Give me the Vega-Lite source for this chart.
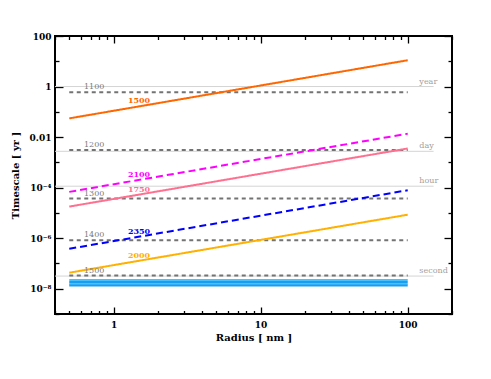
{
  "$schema": "https://vega.github.io/schema/vega-lite/v6.json",
  "width": 397,
  "height": 278,
  "autosize": {"type": "none"},
  "padding": {"left": 55, "top": 36, "right": 39, "bottom": 65},
  "background": "white",
  "config": {
    "view": {"stroke": "black", "strokeWidth": 2},
    "axis": {
      "domain": false,
      "grid": false,
      "tickColor": "black",
      "tickWidth": 1.3,
      "labelFont": "DejaVu Serif",
      "labelFontWeight": "bold",
      "labelFontSize": 9,
      "labelColor": "black",
      "titleFont": "DejaVu Serif",
      "titleFontWeight": "bold",
      "titleFontSize": 10,
      "titleColor": "black"
    }
  },
  "datasets": {
    "refs": [
      {"name": "year", "r": 0.4, "t": 1},
      {"name": "year", "r": 150, "t": 1},
      {"name": "day", "r": 0.4, "t": 0.002738},
      {"name": "day", "r": 150, "t": 0.002738},
      {"name": "hour", "r": 0.4, "t": 0.0001141},
      {"name": "hour", "r": 150, "t": 0.0001141},
      {"name": "second", "r": 0.4, "t": 3.169e-8},
      {"name": "second", "r": 150, "t": 3.169e-8}
    ],
    "refLabels": [
      {"name": "year", "r": 120, "t": 1},
      {"name": "day", "r": 120, "t": 0.002738},
      {"name": "hour", "r": 120, "t": 0.0001141},
      {"name": "second", "r": 120, "t": 3.169e-8}
    ],
    "curves": [
      {"s": "c1", "r": 0.5, "t": 2.19e-8}, {"s": "c1", "r": 100, "t": 2.19e-8},
      {"s": "c2", "r": 0.5, "t": 1.83e-8}, {"s": "c2", "r": 100, "t": 1.83e-8},
      {"s": "c3", "r": 0.5, "t": 1.54e-8}, {"s": "c3", "r": 100, "t": 1.54e-8},
      {"s": "c4", "r": 0.5, "t": 1.33e-8}, {"s": "c4", "r": 100, "t": 1.33e-8},
      {"s": "g1100", "r": 0.5, "t": 0.59}, {"s": "g1100", "r": 100, "t": 0.59},
      {"s": "g1200", "r": 0.5, "t": 0.0031}, {"s": "g1200", "r": 100, "t": 0.0031},
      {"s": "g1300", "r": 0.5, "t": 3.7e-5}, {"s": "g1300", "r": 100, "t": 3.7e-5},
      {"s": "g1400", "r": 0.5, "t": 8.2e-7}, {"s": "g1400", "r": 100, "t": 8.2e-7},
      {"s": "g1500", "r": 0.5, "t": 3.3e-8}, {"s": "g1500", "r": 100, "t": 3.3e-8},
      {"s": "1500", "r": 0.5, "t": 0.055}, {"s": "1500", "r": 100, "t": 11},
      {"s": "2100", "r": 0.5, "t": 6.8e-5}, {"s": "2100", "r": 100, "t": 0.0136},
      {"s": "1750", "r": 0.5, "t": 1.78e-5}, {"s": "1750", "r": 100, "t": 0.00355},
      {"s": "2350", "r": 0.5, "t": 3.8e-7}, {"s": "2350", "r": 100, "t": 7.9e-5},
      {"s": "2000", "r": 0.5, "t": 4.3e-8}, {"s": "2000", "r": 100, "t": 8.5e-6}
    ],
    "greyLabels": [
      {"label": "1100", "r": 0.63, "t": 0.59},
      {"label": "1200", "r": 0.63, "t": 0.0031},
      {"label": "1300", "r": 0.63, "t": 3.7e-5},
      {"label": "1400", "r": 0.63, "t": 8.2e-7},
      {"label": "1500", "r": 0.63, "t": 3.3e-8}
    ],
    "colorLabels": [
      {"label": "1500", "r": 1.49, "t": 0.164},
      {"label": "2100", "r": 1.49, "t": 0.000203},
      {"label": "1750", "r": 1.49, "t": 5.3e-5},
      {"label": "2350", "r": 1.49, "t": 1.13e-6},
      {"label": "2000", "r": 1.49, "t": 1.28e-7}
    ]
  },
  "resolve": {"axis": {"x": "independent", "y": "independent"}},
  "layer": [
    {
      "data": {"name": "refs"},
      "mark": {"type": "line", "color": "#d4d4d4", "strokeWidth": 1},
      "encoding": {
        "x": {"field": "r", "type": "quantitative",
          "scale": {"type": "log", "domain": [0.4, 200], "nice": false},
          "axis": {"orient": "bottom", "values": [1, 10, 100], "tickSize": -7, "labelPadding": 13, "title": "Radius [ nm ]", "titlePadding": 3, "labelExpr": "format(datum.value, 'd')"}},
        "y": {"field": "t", "type": "quantitative",
          "scale": {"type": "log", "domain": [1e-9, 100], "nice": false},
          "axis": {"orient": "left", "values": [1e-8, 1e-6, 0.0001, 0.01, 1, 100], "tickSize": -8, "labelPadding": 12, "title": "Timescale [ yr ]", "titlePadding": 9,
            "labelExpr": "datum.value >= 50 ? '100' : datum.value >= 0.5 ? '1' : datum.value >= 0.005 ? '0.01' : datum.value >= 5e-5 ? '10⁻⁴' : datum.value >= 5e-7 ? '10⁻⁶' : '10⁻⁸'"}},
        "detail": {"field": "name"}
      }
    },
    {
      "data": {"name": "curves"},
      "mark": {"type": "line"},
      "encoding": {
        "x": {"field": "r", "type": "quantitative",
          "scale": {"type": "log", "domain": [0.4, 200], "nice": false},
          "axis": {"orient": "bottom", "values": [0.4, 0.5, 0.6, 0.7, 0.8, 0.9, 2, 3, 4, 5, 6, 7, 8, 9, 20, 30, 40, 50, 60, 70, 80, 90, 200], "tickSize": -3.5, "labels": false, "title": null}},
        "y": {"field": "t", "type": "quantitative",
          "scale": {"type": "log", "domain": [1e-9, 100], "nice": false},
          "axis": {"orient": "left", "values": [1e-9, 1e-7, 1e-5, 0.001, 0.1, 10], "tickSize": -4, "labels": false, "title": null}},
        "color": {"field": "s", "type": "nominal", "legend": null,
          "scale": {"domain": ["c1", "c2", "c3", "c4", "g1100", "g1200", "g1300", "g1400", "g1500", "1500", "2100", "1750", "2350", "2000"],
            "range": ["#45c2ff", "#1a9cf0", "#45c2ff", "#1a9cf0", "#737373", "#737373", "#737373", "#737373", "#737373", "#ff6600", "#ff00ff", "#ff7090", "#0000ff", "#ffb000"]}},
        "strokeDash": {"field": "s", "type": "nominal", "legend": null,
          "scale": {"domain": ["c1", "c2", "c3", "c4", "g1100", "g1200", "g1300", "g1400", "g1500", "1500", "2100", "1750", "2350", "2000"],
            "range": [[1, 0], [1, 0], [1, 0], [1, 0], [4, 3.5], [4, 3.5], [4, 3.5], [4, 3.5], [4, 3.5], [1, 0], [7, 4], [1, 0], [7, 4], [1, 0]]}},
        "strokeWidth": {"field": "s", "type": "nominal", "legend": null,
          "scale": {"domain": ["c1", "c2", "c3", "c4", "g1100", "g1200", "g1300", "g1400", "g1500", "1500", "2100", "1750", "2350", "2000"],
            "range": [2, 2, 2, 2, 1.1, 1.1, 1.1, 1.1, 1.1, 2, 2, 1.5, 2, 1.5]}}
      }
    },
    {
      "data": {"name": "refLabels"},
      "mark": {"type": "text", "align": "left", "baseline": "bottom", "dy": -1, "font": "DejaVu Serif", "fontSize": 8, "color": "#a0a0a0"},
      "encoding": {
        "x": {"field": "r", "type": "quantitative",
          "scale": {"type": "log", "domain": [0.4, 200], "nice": false},
          "axis": {"orient": "top", "values": [1, 10, 100], "tickSize": -7, "labels": false, "title": null}},
        "y": {"field": "t", "type": "quantitative",
          "scale": {"type": "log", "domain": [1e-9, 100], "nice": false},
          "axis": {"orient": "right", "values": [1e-8, 1e-6, 0.0001, 0.01, 1, 100], "tickSize": -8, "labels": false, "title": null}},
        "text": {"field": "name"}
      }
    },
    {
      "data": {"name": "greyLabels"},
      "mark": {"type": "text", "align": "left", "baseline": "bottom", "dy": -1, "font": "DejaVu Serif", "fontSize": 8, "color": "#7a7a7a"},
      "encoding": {
        "x": {"field": "r", "type": "quantitative",
          "scale": {"type": "log", "domain": [0.4, 200], "nice": false},
          "axis": {"orient": "top", "values": [0.4, 0.5, 0.6, 0.7, 0.8, 0.9, 2, 3, 4, 5, 6, 7, 8, 9, 20, 30, 40, 50, 60, 70, 80, 90, 200], "tickSize": -3.5, "labels": false, "title": null}},
        "y": {"field": "t", "type": "quantitative",
          "scale": {"type": "log", "domain": [1e-9, 100], "nice": false},
          "axis": {"orient": "right", "values": [1e-9, 1e-7, 1e-5, 0.001, 0.1, 10], "tickSize": -4, "labels": false, "title": null}},
        "text": {"field": "label"}
      }
    },
    {
      "data": {"name": "colorLabels"},
      "mark": {"type": "text", "align": "center", "baseline": "bottom", "dy": -1, "font": "DejaVu Serif", "fontSize": 8, "fontWeight": "bold"},
      "encoding": {
        "x": {"field": "r", "type": "quantitative",
          "scale": {"type": "log", "domain": [0.4, 200], "nice": false}, "axis": null},
        "y": {"field": "t", "type": "quantitative",
          "scale": {"type": "log", "domain": [1e-9, 100], "nice": false}, "axis": null},
        "text": {"field": "label"},
        "color": {"field": "label", "type": "nominal", "legend": null,
          "scale": {"domain": ["1500", "2100", "1750", "2350", "2000"], "range": ["#ff6600", "#ff00ff", "#ff7090", "#0000ff", "#ffb000"]}}
      }
    }
  ]
}
